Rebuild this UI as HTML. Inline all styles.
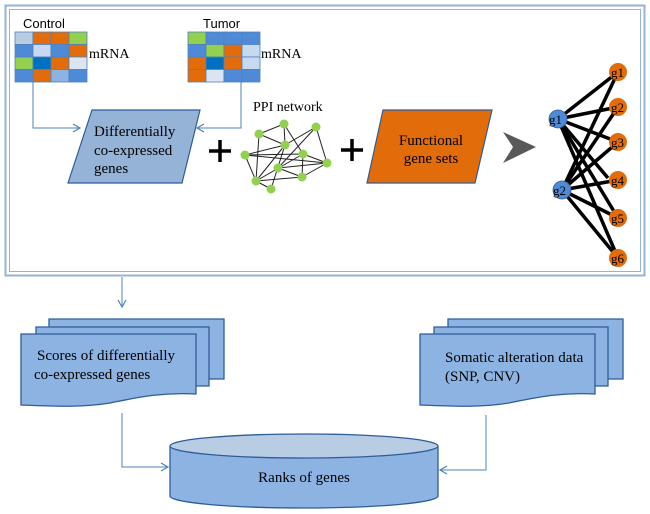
<!DOCTYPE html>
<html><head><meta charset="utf-8"><style>
html,body{margin:0;padding:0;background:#fff;}
svg{display:block;}
text{font-family:"Liberation Serif",serif;fill:#000;}
</style></head><body>
<svg width="650" height="514" viewBox="0 0 650 514" xmlns="http://www.w3.org/2000/svg">
<defs>
<marker id="ar" markerWidth="10" markerHeight="10" refX="8" refY="5" orient="auto" markerUnits="userSpaceOnUse">
<path d="M1,1 L8,5 L1,9" fill="none" stroke="#4f81bd" stroke-width="1.2"/>
</marker>
</defs>
<!-- frame -->
<rect x="5.5" y="5.5" width="639" height="270" fill="none" stroke="#95b3d7" stroke-width="2"/>
<rect x="9.5" y="9.5" width="631" height="262" fill="none" stroke="#95b3d7" stroke-width="1"/>

<!-- control grid -->
<g stroke="#4f81bd" stroke-width="0.8">
<rect x="15" y="32" width="18" height="12.5" fill="#b8cce4"/><rect x="33" y="32" width="18" height="12.5" fill="#e36c0a"/><rect x="51" y="32" width="18" height="12.5" fill="#e36c0a"/><rect x="69" y="32" width="18" height="12.5" fill="#92d050"/>
<rect x="15" y="44.5" width="18" height="12.5" fill="#4f8ad6"/><rect x="33" y="44.5" width="18" height="12.5" fill="#c6d9f1"/><rect x="51" y="44.5" width="18" height="12.5" fill="#4f8ad6"/><rect x="69" y="44.5" width="18" height="12.5" fill="#e36c0a"/>
<rect x="15" y="57" width="18" height="12.5" fill="#92d050"/><rect x="33" y="57" width="18" height="12.5" fill="#0070c0"/><rect x="51" y="57" width="18" height="12.5" fill="#e36c0a"/><rect x="69" y="57" width="18" height="12.5" fill="#dbe5f1"/>
<rect x="15" y="69.5" width="18" height="12.5" fill="#4f8ad6"/><rect x="33" y="69.5" width="18" height="12.5" fill="#e36c0a"/><rect x="51" y="69.5" width="18" height="12.5" fill="#8db3e2"/><rect x="69" y="69.5" width="18" height="12.5" fill="#4f8ad6"/>
</g>
<!-- tumor grid -->
<g stroke="#4f81bd" stroke-width="0.8">
<rect x="188" y="32" width="18" height="12.5" fill="#92d050"/><rect x="206" y="32" width="18" height="12.5" fill="#4f8ad6"/><rect x="224" y="32" width="18" height="12.5" fill="#4f8ad6"/><rect x="242" y="32" width="18" height="12.5" fill="#4f8ad6"/>
<rect x="188" y="44.5" width="18" height="12.5" fill="#4f8ad6"/><rect x="206" y="44.5" width="18" height="12.5" fill="#92d050"/><rect x="224" y="44.5" width="18" height="12.5" fill="#e36c0a"/><rect x="242" y="44.5" width="18" height="12.5" fill="#c6d9f1"/>
<rect x="188" y="57" width="18" height="12.5" fill="#e36c0a"/><rect x="206" y="57" width="18" height="12.5" fill="#0070c0"/><rect x="224" y="57" width="18" height="12.5" fill="#e36c0a"/><rect x="242" y="57" width="18" height="12.5" fill="#c6d9f1"/>
<rect x="188" y="69.5" width="18" height="12.5" fill="#e36c0a"/><rect x="206" y="69.5" width="18" height="12.5" fill="#dbe5f1"/><rect x="224" y="69.5" width="18" height="12.5" fill="#4f8ad6"/><rect x="242" y="69.5" width="18" height="12.5" fill="#4f8ad6"/>
</g>
<text x="23" y="28" font-family="Liberation Sans" font-size="13" style="font-family:'Liberation Sans',sans-serif">Control</text>
<text x="203" y="28" font-size="13" style="font-family:'Liberation Sans',sans-serif">Tumor</text>
<text x="89" y="58" font-size="14">mRNA</text>
<text x="261" y="58" font-size="14">mRNA</text>

<!-- connectors top -->
<path d="M33,82 V128 H80" fill="none" stroke="#4f81bd" stroke-width="1" marker-end="url(#ar)"/>
<path d="M241,82 V128 H197" fill="none" stroke="#4f81bd" stroke-width="1" marker-end="url(#ar)"/>

<!-- differential parallelogram -->
<polygon points="92,110 200,110 182,183 68,183" fill="#95b3d7" stroke="#2e5c99" stroke-width="1.2"/>
<text x="94" y="136" font-size="15">Differentially</text>
<text x="94" y="155" font-size="15">co-expressed</text>
<text x="94" y="173" font-size="15">genes</text>

<!-- plus signs -->
<g stroke="#000" stroke-width="3.5">
<line x1="209" y1="151" x2="231" y2="151"/><line x1="220" y1="140" x2="220" y2="162"/>
<line x1="341" y1="150" x2="363" y2="150"/><line x1="352" y1="139" x2="352" y2="161"/>
</g>

<!-- PPI network -->
<text x="253" y="111" font-size="14">PPI network</text>
<g stroke="#222" stroke-width="1">
<line x1="284" y1="124" x2="259" y2="134"/><line x1="284" y1="124" x2="285" y2="145"/><line x1="284" y1="124" x2="303" y2="154"/>
<line x1="259" y1="134" x2="285" y2="145"/><line x1="316" y1="127" x2="285" y2="145"/><line x1="316" y1="127" x2="327" y2="163"/>
<line x1="316" y1="127" x2="278" y2="168"/><line x1="285" y1="145" x2="245" y2="155"/><line x1="285" y1="145" x2="256" y2="181"/>
<line x1="285" y1="145" x2="271" y2="189"/><line x1="245" y1="155" x2="303" y2="154"/><line x1="245" y1="155" x2="256" y2="181"/>
<line x1="259" y1="134" x2="256" y2="181"/><line x1="278" y1="168" x2="327" y2="163"/><line x1="278" y1="168" x2="302" y2="177"/>
<line x1="303" y1="154" x2="327" y2="163"/><line x1="256" y1="181" x2="302" y2="177"/><line x1="256" y1="181" x2="271" y2="189"/>
<line x1="303" y1="154" x2="302" y2="177"/><line x1="245" y1="155" x2="327" y2="163"/><line x1="256" y1="181" x2="303" y2="154"/>
<line x1="302" y1="177" x2="327" y2="163"/>
</g>
<g fill="#92d050">
<circle cx="284" cy="124" r="4.5"/><circle cx="316" cy="127" r="4.5"/><circle cx="259" cy="134" r="4.5"/><circle cx="285" cy="145" r="4.5"/>
<circle cx="303" cy="154" r="4.5"/><circle cx="245" cy="155" r="4.5"/><circle cx="278" cy="168" r="4.5"/><circle cx="327" cy="163" r="4.5"/>
<circle cx="256" cy="181" r="4.5"/><circle cx="302" cy="177" r="4.5"/><circle cx="271" cy="189" r="4.5"/>
</g>

<!-- functional gene sets -->
<polygon points="383,110 492,110 475,183 367,183" fill="#e36c0a" stroke="#2e5c99" stroke-width="1.2"/>
<text x="431" y="145" font-size="15" text-anchor="middle">Functional</text>
<text x="431" y="163" font-size="15" text-anchor="middle">gene sets</text>

<!-- grey chevron -->
<polygon points="503,132 536,147 503,163 513,147" fill="#595959"/>

<!-- bipartite graph -->
<g stroke="#000" stroke-width="3.5">
<line x1="558" y1="119" x2="618" y2="72"/><line x1="558" y1="119" x2="618" y2="107"/><line x1="558" y1="119" x2="618" y2="142"/>
<line x1="558" y1="119" x2="608" y2="178"/><line x1="558" y1="119" x2="618" y2="218"/><line x1="558" y1="119" x2="618" y2="258"/>
<line x1="562" y1="190" x2="618" y2="72"/><line x1="562" y1="190" x2="618" y2="107"/><line x1="562" y1="190" x2="618" y2="142"/>
<line x1="562" y1="190" x2="618" y2="180"/><line x1="562" y1="190" x2="618" y2="218"/><line x1="562" y1="190" x2="618" y2="258"/>
</g>
<g stroke="#2e5c99" stroke-width="0.8" fill="#4f8ad6">
<circle cx="558" cy="119" r="9"/><circle cx="562" cy="190" r="9"/>
</g>
<g fill="#e36c0a">
<circle cx="618" cy="72" r="9"/><circle cx="618" cy="107" r="9"/><circle cx="618" cy="142" r="9"/>
<circle cx="618" cy="180" r="9"/><circle cx="618" cy="218" r="9"/><circle cx="618" cy="258" r="9"/>
</g>
<g font-size="13">
<text x="549" y="124">g1</text><text x="553" y="195">g2</text>
<text x="611" y="77">g1</text><text x="611" y="112">g2</text><text x="611" y="147">g3</text>
<text x="611" y="185">g4</text><text x="611" y="223">g5</text><text x="611" y="263">g6</text>
</g>

<!-- arrow down from frame -->
<path d="M122,277 V307" fill="none" stroke="#4f81bd" stroke-width="1" marker-end="url(#ar)"/>

<!-- left document stack -->
<g fill="#8db3e2" stroke="#2e5c99" stroke-width="1.3">
<path d="M49,319 H224 V379 H49 Z"/>
<path d="M36,327 H209 V386 H36 Z"/>
<path d="M21,334 H196 V394 C160,392 135,398 110,403 C80,408 50,406 21,405 Z"/>
</g>
<text x="37" y="360" font-size="15">Scores of differentially</text>
<text x="34" y="379" font-size="15">co-expressed genes</text>

<!-- right document stack -->
<g fill="#8db3e2" stroke="#2e5c99" stroke-width="1.3">
<path d="M448,319 H623 V379 H448 Z"/>
<path d="M434,327 H608 V386 H434 Z"/>
<path d="M420,334 H595 V394 C559,392 534,398 509,403 C479,408 449,406 420,405 Z"/>
</g>
<text x="445" y="362" font-size="15">Somatic alteration data</text>
<text x="445" y="381" font-size="15">(SNP, CNV)</text>

<!-- lower connectors -->
<path d="M122,413 V467 H168" fill="none" stroke="#4f81bd" stroke-width="1" marker-end="url(#ar)"/>
<path d="M486,415 V470 H440" fill="none" stroke="#4f81bd" stroke-width="1" marker-end="url(#ar)"/>

<!-- cylinder -->
<path d="M170,446 V496 A134,12 0 0 0 438,496 V446" fill="#8db3e2" stroke="#2e5c99" stroke-width="1.3"/>
<ellipse cx="304" cy="446" rx="134" ry="12" fill="#b8cce4" stroke="#2e5c99" stroke-width="1.3"/>
<text x="304" y="482" font-size="15" text-anchor="middle">Ranks of genes</text>
</svg>
</body></html>
